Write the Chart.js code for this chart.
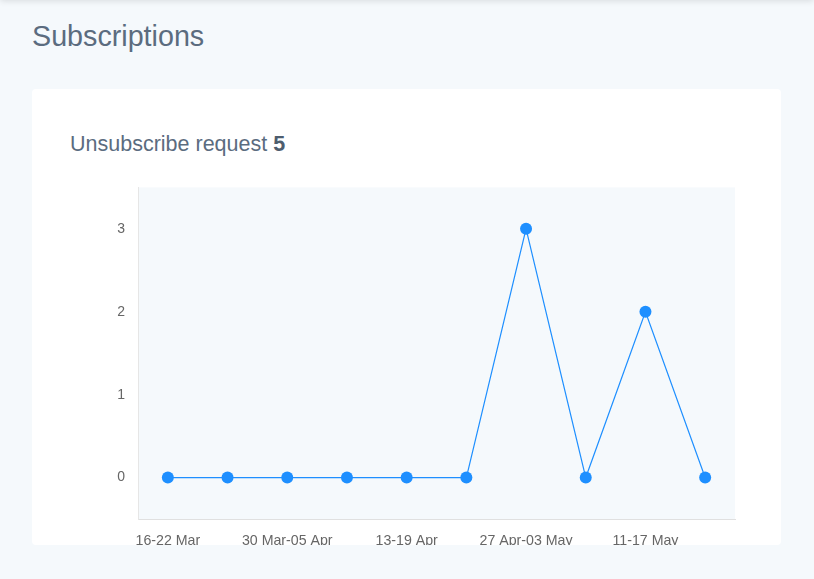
<!DOCTYPE html>
<html>
<head>
<meta charset="utf-8">
<script src="https://cdn.jsdelivr.net/npm/chart.js@4/dist/chart.umd.min.js"></script>
<style>
  html, body { margin: 0; padding: 0; }
  body {
    width: 814px; height: 579px; overflow: hidden; position: relative;
    background: #f5f9fc; font-family: "Liberation Sans", Arial, sans-serif;
  }
  .topbar {
    position: absolute; left: 0; top: -10px; width: 814px; height: 10px;
    box-shadow: 0 1px 6px rgba(0, 0, 0, 0.12);
  }
  h1 {
    position: absolute; left: 32px; top: 20px; margin: 0;
    font-size: 28.7px; font-weight: normal; color: #5b6c7f;
  }
  .card {
    position: absolute; left: 32px; top: 89px; width: 749px; height: 456px;
    background: #fff; border-radius: 4px; overflow: hidden;
  }
  .card h2 {
    position: absolute; left: 38px; top: 43px; margin: 0;
    font-size: 21.5px; font-weight: normal; color: #5b6c7f;
  }
  .card h2 b { color: #4e5d6e; }
  #chart { position: absolute; left: 58px; top: 77px; }
</style>
</head>
<body>
<div class="topbar"></div>
<h1>Subscriptions</h1>
<div class="card">
  <h2>Unsubscribe request <b>5</b></h2>
  <canvas id="chart" width="672" height="395"></canvas>
</div>
<script>
const weeks = [
  "16-22 Mar", "23-29 Mar", "30 Mar-05 Apr", "06-12 Apr", "13-19 Apr",
  "20-26 Apr", "27 Apr-03 May", "04-10 May", "11-17 May", "18-24 May"
];
const unsubscribes = [0, 0, 0, 0, 0, 0, 3, 0, 2, 0];
const yTicks = [0, 1, 2, 3];

// fills the plot area before the line is drawn
const plotBackground = {
  id: "plotBackground",
  beforeDraw(chart) {
    const { ctx, chartArea: a } = chart;
    ctx.save();
    ctx.fillStyle = "#f5f9fc";
    ctx.fillRect(a.left, a.top, a.right - a.left, a.bottom - a.top);
    ctx.restore();
  }
};

const ctx = document.querySelector("#chart").getContext("2d");
new Chart(ctx, {
  type: "line",
  data: {
    labels: weeks,
    datasets: [{
      label: "Unsubscribe request",
      data: unsubscribes,
      borderColor: "#1e8fff",
      borderWidth: 1.2,
      backgroundColor: "#1e8fff",
      pointBackgroundColor: "#1e8fff",
      pointBorderWidth: 0,
      pointRadius: 6,
      tension: 0,
      fill: false
    }]
  },
  options: {
    responsive: false,
    animation: false,
    devicePixelRatio: 1,
    layout: { padding: { top: 7, right: 27, left: 0, bottom: 0 } },
    scales: {
      x: {
        offset: true,
        grid: { display: false, drawTicks: false },
        border: { display: true, color: "#e0e0e0" },
        ticks: {
          autoSkip: false,
          maxRotation: 0,
          padding: 14,
          color: "#666",
          font: { size: 14.2, family: "'Liberation Sans', Arial, sans-serif" },
          callback: function (val, i) {
            return i % 2 === 0 ? this.getLabelForValue(val) : "";
          }
        },
        afterFit(scale) { scale.height = 42; }
      },
      y: {
        min: -0.5,
        max: 3.5,
        grid: { display: false, drawTicks: false },
        border: { display: true, color: "#e6e6e6" },
        ticks: {
          padding: 13,
          color: "#666",
          font: { size: 14, family: "'Liberation Sans', Arial, sans-serif" }
        },
        afterBuildTicks(scale) {
          scale.ticks = yTicks.map(v => ({ value: v }));
        },
        afterFit(scale) { scale.width = 48; }
      }
    },
    plugins: {
      legend: { display: false },
      tooltip: { enabled: false }
    }
  },
  plugins: [plotBackground]
});
</script>
</body>
</html>
